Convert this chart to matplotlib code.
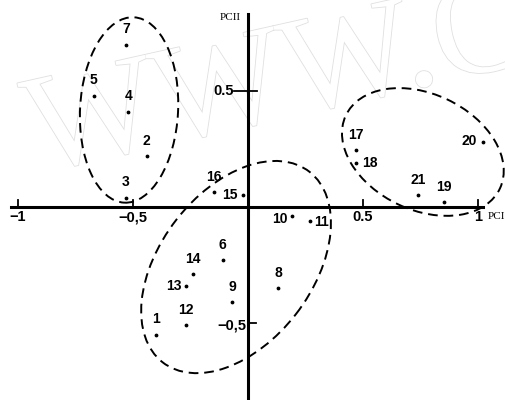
import matplotlib
matplotlib.use('Agg')
import matplotlib.pyplot as plt
import matplotlib.patheffects as pe
from matplotlib.patches import Ellipse
import numpy as np

# sample scores on PCI / PCII
labels = ['1', '2', '3', '4', '5', '6', '7', '8', '9', '10', '11',
          '12', '13', '14', '15', '16', '17', '18', '19', '20', '21']
pc1 = [-0.40, -0.44, -0.53, -0.52, -0.67, -0.11, -0.53, 0.13, -0.07, 0.19, 0.27,
       -0.27, -0.27, -0.24, -0.02, -0.15, 0.47, 0.47, 0.85, 1.02, 0.74]
pc2 = [-0.55, 0.22, 0.04, 0.41, 0.48, -0.23, 0.70, -0.35, -0.41, -0.04, -0.06,
       -0.51, -0.34, -0.29, 0.05, 0.065, 0.245, 0.19, 0.02, 0.28, 0.05]

# group outlines: centre x, centre y, width, height, angle
groups_cx = [-0.517, -0.052, 0.76]
groups_cy = [0.418, -0.259, 0.237]
groups_w = [0.426, 1.04, 0.74]
groups_h = [0.80, 0.66, 0.50]
groups_ang = [-3, 52, -25]

# label offsets (points) relative to each dot
offs = [(0, 6), (0, 6), (0, 6), (0, 6), (0, 6), (0, 6), (0, 6), (0, 6), (0, 6),
        (-3, -2), (3, -1), (0, 6), (-3, 0), (0, 6), (-4, 0), (0, 6),
        (0, 6), (4, 0), (0, 6), (-4, 1), (0, 6)]
has = ['center'] * 21
for i in (10, 17):
    has[i] = 'left'
for i in (12, 14, 19, 9):
    has[i] = 'right'

fig = plt.figure(figsize=(5.05, 4.0), dpi=100)
ax = fig.add_axes([0, 0, 1, 1])
ax.set_xlim(-1.078, 1.117)
ax.set_ylim(-0.832, 0.892)
ax.axis('off')

# watermark
ax.text(-0.917, 0.15, 'WWW.C', fontsize=100, family='Liberation Serif',
        color='white', rotation=12.6, rotation_mode='anchor',
        ha='left', va='baseline', zorder=0,
        path_effects=[pe.withStroke(linewidth=1.2, foreground='#e0e0e0')])

# axes through origin
ax.plot([-1.03, 1.02], [0, 0], color='black', lw=2.2, zorder=2)
ax.plot([0, 0], [-0.84, 0.83], color='black', lw=2.2, zorder=2)
for t in [-1, -0.5, 0.5, 1]:
    ax.plot([t, t], [0, 0.03], color='black', lw=1.3)
ax.plot([-0.06, 0.04], [0.5, 0.5], color='black', lw=1.3)
ax.plot([0, 0.035], [-0.5, -0.5], color='black', lw=1.3)

tfont = dict(fontsize=10.5, fontweight='bold', family='Liberation Sans')
ax.text(-1.0, -0.015, '−1', ha='center', va='top', **tfont)
ax.text(-0.5, -0.015, '−0,5', ha='center', va='top', **tfont)
ax.text(0.5, -0.015, '0.5', ha='center', va='top', **tfont)
ax.text(1.0, -0.015, '1', ha='center', va='top', **tfont)
ax.text(-0.06, 0.5, '0.5', ha='right', va='center', **tfont)
ax.text(-0.005, -0.51, '−0,5', ha='right', va='center', **tfont)

ax.text(-0.03, 0.815, 'PCII', ha='right', va='center', fontsize=8,
        family='Liberation Serif')
ax.text(1.04, -0.04, 'PCI', ha='left', va='center', fontsize=8,
        family='Liberation Serif')

for i in range(3):
    e = Ellipse((groups_cx[i], groups_cy[i]), groups_w[i], groups_h[i],
                angle=groups_ang[i], fill=False, edgecolor='black',
                lw=1.4, linestyle=(0, (5, 3)), zorder=3)
    ax.add_patch(e)

ax.scatter(pc1, pc2, s=3, color='black', zorder=4)
for i in range(len(labels)):
    ax.annotate(labels[i], (pc1[i], pc2[i]), xytext=offs[i],
                textcoords='offset points', ha=has[i], va='bottom' if offs[i][1] > 3 else 'center',
                fontsize=10, fontweight='bold', family='Liberation Sans', zorder=5)

fig.savefig('out.png', dpi=100)
